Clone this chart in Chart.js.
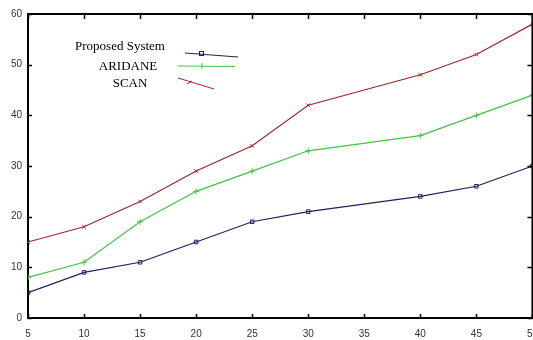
<!DOCTYPE html>
<html>
<head>
    <script src="https://cdn.jsdelivr.net/npm/chart.js"></script>
    <style>
        body {
            margin: 0;
            padding: 0;
            background: #fff;
            overflow: hidden;
        }
        .chart-container {
            width: 548px;
            height: 340px;
        }
    </style>
</head>
<body>
    <div class="chart-container">
        <canvas id="resultChart"></canvas>
    </div>
    <script>
        const xValues = [5, 10, 15, 20, 25, 30, 40, 45, 50];
        const proposedSystem = [5, 9, 11, 15, 19, 21, 24, 26, 30];
        const aridane = [8, 11, 19, 25, 29, 33, 36, 40, 44];
        const scan = [15, 18, 23, 29, 34, 42, 48, 52, 58];
        const xTicks = [5, 10, 15, 20, 25, 30, 35, 40, 45, 50];
        const yTicks = [0, 10, 20, 30, 40, 50, 60];

        const toPoints = (ys) => xValues.map((x, i) => ({ x: x, y: ys[i] }));

        // box around plot with inward ticks, gnuplot style
        const framePlugin = {
            id: 'frame',
            afterDraw(chart) {
                const c = chart.ctx;
                const a = chart.chartArea;
                const xs = chart.scales.x;
                const ys = chart.scales.y;
                c.save();
                c.strokeStyle = '#000';
                c.lineWidth = 2;
                c.beginPath();
                c.moveTo(a.left, a.top);
                c.lineTo(a.right, a.top);
                c.lineTo(a.right, a.bottom);
                c.stroke();
                c.lineWidth = 1.5;
                c.beginPath();
                xTicks.forEach(v => {
                    const px = Math.round(xs.getPixelForValue(v)) + 0.5;
                    c.moveTo(px, a.bottom); c.lineTo(px, a.bottom - 4);
                    c.moveTo(px, a.top); c.lineTo(px, a.top + 5);
                });
                yTicks.forEach(v => {
                    const py = Math.round(ys.getPixelForValue(v)) + 0.5;
                    c.moveTo(a.left, py); c.lineTo(a.left + 4, py);
                    c.moveTo(a.right, py); c.lineTo(a.right - 5, py);
                });
                c.stroke();

                // legend
                c.font = '13px "Liberation Serif", "Times New Roman", serif';
                c.fillStyle = '#000';
                c.textAlign = 'center';
                c.textBaseline = 'middle';
                c.fillText('Proposed System', 120, 47);
                c.fillText('ARIDANE', 128, 67);
                c.fillText('SCAN', 130, 84);

                c.lineWidth = 1;
                c.strokeStyle = '#20205e';
                c.beginPath(); c.moveTo(185, 53); c.lineTo(238, 57); c.stroke();
                c.strokeRect(199.5, 51.5, 4, 4);
                c.strokeStyle = '#44c244';
                c.beginPath(); c.moveTo(178, 66); c.lineTo(235, 66.5); c.stroke();
                c.beginPath(); c.moveTo(202, 63); c.lineTo(202, 69); c.stroke();
                c.strokeStyle = '#9c2828';
                c.beginPath(); c.moveTo(178, 78); c.lineTo(214, 89); c.stroke();
                c.beginPath(); c.moveTo(187, 84); c.lineTo(192, 81); c.stroke();
                c.restore();
            }
        };

        const ctx = document.getElementById('resultChart').getContext('2d');
        new Chart(ctx, {
            type: 'line',
            data: {
                datasets: [
                    {
                        label: 'Proposed System',
                        data: toPoints(proposedSystem),
                        borderColor: '#20205e',
                        borderWidth: 1.2,
                        pointStyle: 'rect',
                        pointRadius: 2.5,
                        pointBorderWidth: 1,
                        pointBorderColor: '#20205e',
                        pointBackgroundColor: 'rgba(255,255,255,0)',
                        tension: 0
                    },
                    {
                        label: 'ARIDANE',
                        data: toPoints(aridane),
                        borderColor: '#44c244',
                        borderWidth: 1.2,
                        pointStyle: 'cross',
                        pointRadius: 3,
                        pointBorderWidth: 1,
                        pointBorderColor: '#44c244',
                        tension: 0
                    },
                    {
                        label: 'SCAN',
                        data: toPoints(scan),
                        borderColor: '#9c2828',
                        borderWidth: 1.2,
                        pointStyle: 'crossRot',
                        pointRadius: 2.5,
                        pointBorderWidth: 1,
                        pointBorderColor: '#9c2828',
                        tension: 0
                    }
                ]
            },
            options: {
                responsive: true,
                maintainAspectRatio: false,
                animation: false,
                layout: { padding: { left: 0, top: 14, right: 0, bottom: 0 } },
                plugins: {
                    legend: { display: false },
                    tooltip: { enabled: false }
                },
                scales: {
                    x: {
                        type: 'linear',
                        min: 5,
                        max: 50,
                        afterBuildTicks: (axis) => { axis.ticks = xTicks.map(v => ({ value: v })); },
                        afterFit: (axis) => { axis.height = 22; },
                        grid: { display: false, drawTicks: false },
                        border: { display: true, color: '#000', width: 2 },
                        ticks: {
                            color: '#333',
                            font: { family: 'Liberation Sans', size: 10 },
                            padding: 10,
                            maxRotation: 0
                        }
                    },
                    y: {
                        min: 0,
                        max: 60,
                        afterBuildTicks: (axis) => { axis.ticks = yTicks.map(v => ({ value: v })); },
                        afterFit: (axis) => { axis.width = 28; },
                        grid: { display: false, drawTicks: false },
                        border: { display: true, color: '#000', width: 2 },
                        ticks: {
                            color: '#333',
                            font: { family: 'Liberation Sans', size: 10 },
                            padding: 6
                        }
                    }
                }
            },
            plugins: [framePlugin]
        });
    </script>
</body>
</html>
